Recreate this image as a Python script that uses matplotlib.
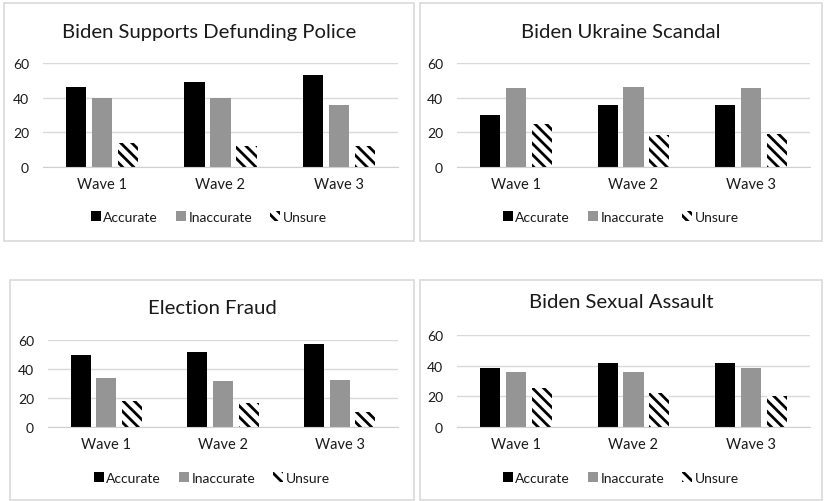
import matplotlib.pyplot as plt
from matplotlib.patches import Rectangle, Patch
import numpy as np

plt.rcParams['font.family'] = ['Lato', 'DejaVu Sans']
plt.rcParams['hatch.linewidth'] = 2.0
plt.rcParams['hatch.color'] = 'black'

waves = ["Wave 1", "Wave 2", "Wave 3"]
series = ["Accurate", "Inaccurate", "Unsure"]

titles = ["Biden Supports Defunding Police", "Biden Ukraine Scandal",
          "Election Fraud", "Biden Sexual Assault"]

defund_accurate = [46, 49, 53]
defund_inaccurate = [40, 40, 36]
defund_unsure = [14, 12, 12]

ukraine_accurate = [30, 36, 36]
ukraine_inaccurate = [45.5, 46, 45.5]
ukraine_unsure = [25, 18.5, 19]

fraud_accurate = [50, 52, 57.5]
fraud_inaccurate = [33.5, 31.5, 32.5]
fraud_unsure = [18, 16.5, 10.5]

assault_accurate = [38.7, 42, 42]
assault_inaccurate = [35.7, 35.7, 38.3]
assault_unsure = [25.7, 22.4, 20.2]

panel_data = [
    (defund_accurate, defund_inaccurate, defund_unsure),
    (ukraine_accurate, ukraine_inaccurate, ukraine_unsure),
    (fraud_accurate, fraud_inaccurate, fraud_unsure),
    (assault_accurate, assault_inaccurate, assault_unsure),
]

W, H = 824, 502
fig = plt.figure(figsize=(W / 100, H / 100), dpi=100)


def fx(px):
    return px / W


def fy(py):
    return 1 - py / H


# panel layout in pixels: box (x0, y0, x1, y1), plot (x0, x1, y_top(60), y_zero), title y, legend y
layout = [
    ((4, 4, 414, 242), (43, 398, 64, 168), 33, 218),
    ((420, 4, 822, 242), (457, 810, 64, 168), 33, 218),
    ((10, 281, 414, 501), (48, 398, 341, 428), 309, 479),
    ((420, 281, 822, 501), (457, 810, 336, 428), 303, 479),
]

colors = ["black", "#959595", "white"]
hatches = [None, None, "\\\\\\"]
text_color = "#1a1a1a"

for (box, plot, ty, ly), title, data in zip(layout, titles, panel_data):
    bx0, by0, bx1, by1 = box
    fig.patches.append(Rectangle((fx(bx0), fy(by1)), fx(bx1 - bx0), (by1 - by0) / H,
                                 transform=fig.transFigure, fill=False,
                                 edgecolor="#d9d9d9", linewidth=1.2))
    px0, px1, ptop, pzero = plot
    ax = fig.add_axes([fx(px0), fy(pzero), fx(px1 - px0), (pzero - ptop) / H])
    x = np.arange(len(waves))
    for i, vals in enumerate(data):
        ax.bar(x + (i - 1) * 0.22, vals, width=0.17, color=colors[i],
               hatch=hatches[i], edgecolor="black" if i == 2 else colors[i],
               linewidth=0)
    ax.set_xlim(-0.5, 2.5)
    ax.set_ylim(0, 60)
    ax.set_yticks([0, 20, 40, 60])
    ax.set_xticks(x)
    ax.set_xticklabels(waves)
    ax.tick_params(length=0, labelsize=10, colors=text_color)
    ax.tick_params(axis='x', labelsize=10.5, pad=7)
    ax.tick_params(axis='y', pad=10)
    for s in ["top", "right", "left"]:
        ax.spines[s].set_visible(False)
    ax.spines["bottom"].set_color("#d0d0d0")
    ax.grid(axis='y', color="#d9d9d9", linewidth=1)
    ax.set_axisbelow(True)

    cx = (bx0 + bx1) / 2
    fig.text(fx(cx), fy(ty), title, ha='center', va='center', fontsize=14.6,
             color=text_color)

    handles = [Patch(facecolor=colors[i], hatch=hatches[i], edgecolor="black" if i == 2 else colors[i],
                     linewidth=0) for i in range(3)]
    fig.legend(handles, series, loc='center', bbox_to_anchor=(fx(cx), fy(ly)),
               ncol=3, frameon=False, fontsize=10, handlelength=0.7,
               handleheight=0.7, handletextpad=0.2, columnspacing=1.3,
               labelcolor=text_color)

fig.savefig("out.png", dpi=100)
